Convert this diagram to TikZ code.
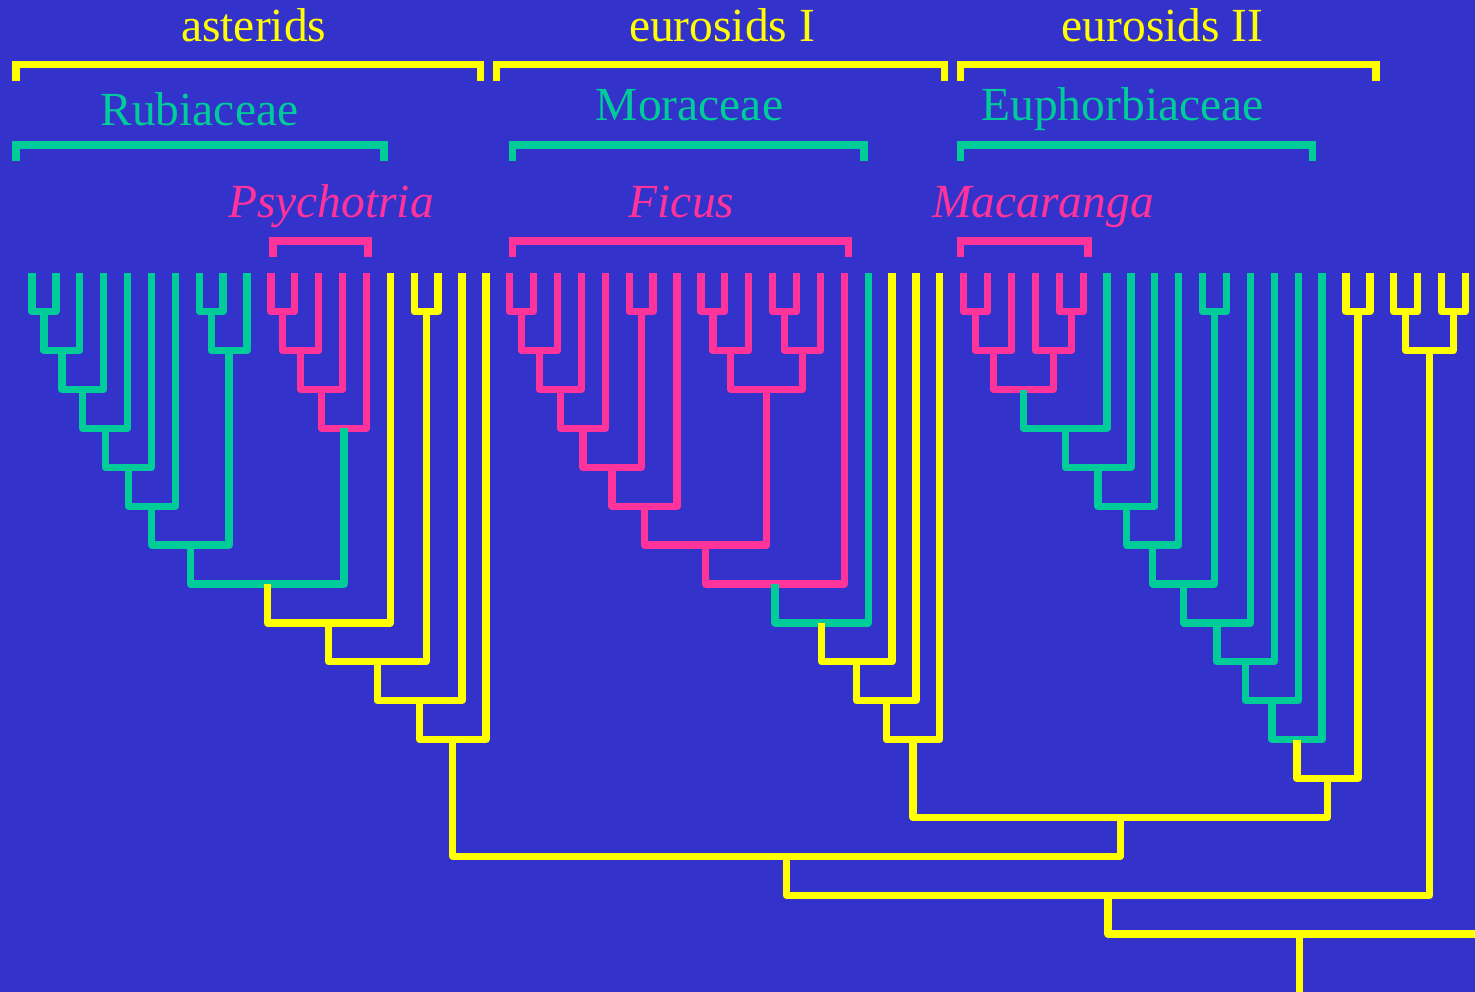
\documentclass[tikz,border=0pt]{standalone}
\usepackage{fontspec}
\setmainfont{Liberation Serif}
\usetikzlibrary{calc}
\definecolor{bgblue}{RGB}{51,51,204}
\definecolor{cyel}{RGB}{255,255,0}
\definecolor{cgrn}{RGB}{0,204,153}
\definecolor{cpnk}{RGB}{255,51,153}
\tikzset{
  branch/.style={line width=7.3pt, line join=round, line cap=butt},
  Y/.style={branch, draw=cyel},
  G/.style={branch, draw=cgrn},
  P/.style={branch, draw=cpnk},
  brk/.style={line width=7.5pt, line join=miter, line cap=butt},
  lab/.style={anchor=base, inner sep=0pt, font=\fontsize{47.5pt}{57pt}\selectfont},
}
% \jn{name}{left child}{right child}{level}{style}: joins two clades at a depth level
\newcommand\jn[5]{%
  \path let \p1=($(#2)!0.5!(#3)$) in coordinate (#1) at (\x1,{-(272.8+38.9*#4)*1pt});
  \draw[#5] (#2) |- (#1) -| (#3);}
% \clade{name}{x left}{x right}{y bar}{y ends}{colour}: square bracket over a group
\newcommand\clade[6]{%
  \coordinate (#1-a) at (#2,-#5);
  \coordinate (#1-b) at (#3,-#5);
  \draw[brk,draw=#6] (#1-a) -- ++(0,#5-#4) -| (#1-b);}
\begin{document}
\begin{tikzpicture}[x=1pt,y=1pt]
\fill[bgblue] (0,0) rectangle (1475,-992);
\useasboundingbox (0,0) rectangle (1475,-992);
\clip (0,0) rectangle (1475,-992);

% leaves
\foreach \i in {0,...,60} \coordinate (t\i) at ({32+23.89*\i},-273);

% ---- asterids ----
\jn{a1}{t0}{t1}{1}{G}
\jn{a2}{a1}{t2}{2}{G}
\jn{a3}{a2}{t3}{3}{G}
\jn{a4}{a3}{t4}{4}{G}
\jn{a5}{a4}{t5}{5}{G}
\jn{a6}{a5}{t6}{6}{G}
\jn{b1}{t7}{t8}{1}{G}
\jn{b2}{b1}{t9}{2}{G}
\jn{a7}{a6}{b2}{7}{G}
\jn{p1}{t10}{t11}{1}{P}
\jn{p2}{p1}{t12}{2}{P}
\jn{p3}{p2}{t13}{3}{P}
\jn{p4}{p3}{t14}{4}{P}
\jn{a8}{a7}{p4}{8}{G}
\jn{a9}{a8}{t15}{9}{Y}
\jn{c1}{t16}{t17}{1}{Y}
\jn{a10}{a9}{c1}{10}{Y}
\jn{a11}{a10}{t18}{11}{Y}
\jn{a12}{a11}{t19}{12}{Y}

% ---- eurosids I ----
\jn{m1}{t20}{t21}{1}{P}
\jn{m2}{m1}{t22}{2}{P}
\jn{m3}{m2}{t23}{3}{P}
\jn{m4}{m3}{t24}{4}{P}
\jn{n1}{t25}{t26}{1}{P}
\jn{m5}{m4}{n1}{5}{P}
\jn{m6}{m5}{t27}{6}{P}
\jn{q1}{t28}{t29}{1}{P}
\jn{q2}{q1}{t30}{2}{P}
\jn{r1}{t31}{t32}{1}{P}
\jn{r2}{r1}{t33}{2}{P}
\jn{q3}{q2}{r2}{3}{P}
\jn{m7}{m6}{q3}{7}{P}
\jn{m8}{m7}{t34}{8}{P}
\jn{m9}{m8}{t35}{9}{G}
\jn{m10}{m9}{t36}{10}{Y}
\jn{m11}{m10}{t37}{11}{Y}
\jn{m12}{m11}{t38}{12}{Y}

% ---- eurosids II ----
\jn{s1}{t39}{t40}{1}{P}
\jn{s2}{s1}{t41}{2}{P}
\jn{k1}{t43}{t44}{1}{P}
\jn{k2}{t42}{k1}{2}{P}
\jn{s3}{s2}{k2}{3}{P}
\jn{s4}{s3}{t45}{4}{G}
\jn{s5}{s4}{t46}{5}{G}
\jn{s6}{s5}{t47}{6}{G}
\jn{s7}{s6}{t48}{7}{G}
\jn{u1}{t49}{t50}{1}{G}
\jn{s8}{s7}{u1}{8}{G}
\jn{s9}{s8}{t51}{9}{G}
\jn{s10}{s9}{t52}{10}{G}
\jn{s11}{s10}{t53}{11}{G}
\jn{s12}{s11}{t54}{12}{G}
\jn{v1}{t55}{t56}{1}{Y}
\jn{s13}{s12}{v1}{13}{Y}

% ---- backbone ----
\jn{w14}{m12}{s13}{14}{Y}
\jn{w15}{a12}{w14}{15}{Y}
\jn{x1}{t57}{t58}{1}{Y}
\jn{x2}{t59}{t60}{1}{Y}
\jn{x3}{x1}{x2}{2}{Y}
\jn{w16}{w15}{x3}{16}{Y}
\coordinate (rr) at (1491,-900);
\jn{root}{w16}{rr}{17}{Y}
\coordinate (base) at ($(root)+(0,-80)$);
\draw[Y] (root) -- (base);

% ---- group brackets ----
\clade{ast}{16}{480.7}{64.7}{80.7}{cyel}
\clade{eu1}{496.7}{944.5}{64.7}{80.7}{cyel}
\clade{eu2}{960.6}{1376}{64.7}{80.7}{cyel}
\clade{rub}{16}{384}{145}{160.7}{cgrn}
\clade{mor}{512.5}{864}{145}{160.7}{cgrn}
\clade{eup}{960.6}{1312.4}{145}{160.7}{cgrn}
\clade{psy}{272.8}{368}{241}{257}{cpnk}
\clade{fic}{512.5}{848.3}{241}{257}{cpnk}
\clade{mac}{960.6}{1088}{241}{257}{cpnk}

% ---- labels ----
\node[lab,text=cyel] (Last) at (253.7,-41.5) {asterids};
\node[lab,text=cyel] (Leu1) at (722,-41.5) {eurosids I};
\node[lab,text=cyel] (Leu2) at (1162.5,-41.5) {eurosids II};
\node[lab,text=cgrn] (Lrub) at (199.4,-126) {Rubiaceae};
\node[lab,text=cgrn] (Lmor) at (689.5,-120.7) {Moraceae};
\node[lab,text=cgrn] (Leup) at (1122.5,-120.7) {Euphorbiaceae};
\node[lab,text=cpnk,font=\fontsize{47.5pt}{57pt}\selectfont\itshape] (Lpsy) at (331,-217.3) {Psychotria};
\node[lab,text=cpnk,font=\fontsize{47.5pt}{57pt}\selectfont\itshape] (Lfic) at (681.5,-217.3) {Ficus};
\node[lab,text=cpnk,font=\fontsize{47.5pt}{57pt}\selectfont\itshape] (Lmac) at (1043,-217.3) {Macaranga};
\end{tikzpicture}
\end{document}
